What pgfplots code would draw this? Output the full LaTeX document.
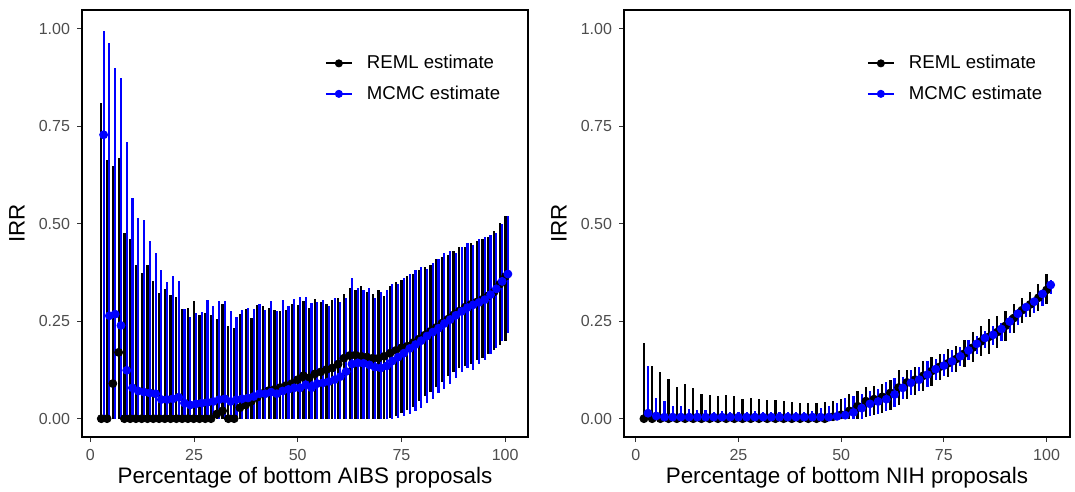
\documentclass[border=0pt]{standalone}
\usepackage{fontspec}
\setmainfont{Liberation Sans}
\usepackage{pgfplots}
\usepackage{pgfplotstable}
\pgfplotsset{compat=1.18}
\definecolor{tickgray}{HTML}{4D4D4D}
\definecolor{tickline}{HTML}{333333}
\definecolor{mcmcblue}{RGB}{0,0,255}

% AIBS: REML
\pgfplotstableread{
x y lo hi
2.65 0 0 0.81
4.04 0 0 0.664
5.43 0.09 0 0.649
6.83 0.17 0 0.668
8.22 0 0 0.476
9.61 0 0 0.462
11.00 0 0 0.395
12.39 0 0 0.374
13.79 0 0 0.395
15.18 0 0 0.354
16.57 0 0 0.323
17.96 0 0 0.333
19.35 0 0 0.316
20.75 0 0 0.311
22.14 0 0 0.282
23.53 0 0 0.284
24.92 0 0 0.302
26.31 0 0 0.265
27.71 0 0 0.271
29.10 0 0 0.267
30.49 0.012 0 0.256
31.88 0.02 0 0.293
33.27 0 0 0.237
34.67 0 0 0.232
36.06 0.028 0 0.268
37.45 0.035 0 0.282
38.84 0.045 0 0.258
40.23 0.055 0 0.292
41.63 0.065 0 0.290
43.02 0.072 0 0.284
44.41 0.075 0 0.279
45.80 0.08 0 0.277
47.19 0.085 0 0.279
48.59 0.09 0 0.295
49.98 0.10 0 0.292
51.37 0.11 0 0.301
52.76 0.105 0 0.284
54.15 0.115 0 0.308
55.55 0.12 0 0.30
56.94 0.126 0 0.295
58.33 0.13 0 0.305
59.72 0.14 0 0.31
61.11 0.155 0 0.32
62.51 0.162 0 0.335
63.90 0.163 0 0.33
65.29 0.16 0 0.34
66.68 0.158 0 0.325
68.07 0.155 0 0.32
69.47 0.155 0 0.33
70.86 0.16 0 0.315
72.25 0.168 0.003 0.34
73.64 0.175 0.008 0.35
75.03 0.182 0.015 0.355
76.43 0.186 0.022 0.365
77.82 0.195 0.03 0.37
79.21 0.204 0.045 0.38
80.60 0.214 0.058 0.39
81.99 0.224 0.068 0.395
83.39 0.234 0.08 0.41
84.78 0.245 0.095 0.415
86.17 0.255 0.11 0.42
87.56 0.266 0.12 0.43
88.95 0.276 0.13 0.44
90.35 0.286 0.135 0.44
91.74 0.293 0.14 0.45
93.13 0.299 0.15 0.455
94.52 0.306 0.155 0.46
95.91 0.315 0.165 0.465
97.31 0.325 0.175 0.48
98.70 0.345 0.19 0.503
100.09 0.365 0.20 0.519
}\aibsreml

% AIBS: MCMC
\pgfplotstableread{
x y lo hi
3.21 0.728 0 0.995
4.60 0.264 0 0.963
5.99 0.268 0 0.899
7.39 0.239 0 0.874
8.78 0.124 0 0.709
10.17 0.079 0 0.566
11.56 0.071 0 0.515
12.95 0.068 0 0.510
14.35 0.066 0 0.456
15.74 0.064 0 0.425
17.13 0.049 0 0.382
18.52 0.049 0 0.350
19.91 0.051 0 0.367
21.31 0.055 0 0.354
22.70 0.040 0 0.282
24.09 0.035 0 0.262
25.48 0.038 0 0.270
26.87 0.040 0 0.274
28.27 0.042 0 0.305
29.66 0.044 0 0.290
31.05 0.049 0 0.301
32.44 0.051 0 0.303
33.83 0.044 0 0.275
35.23 0.049 0 0.260
36.62 0.051 0 0.279
38.01 0.053 0 0.284
39.40 0.057 0 0.281
40.79 0.064 0 0.294
42.19 0.064 0 0.278
43.58 0.068 0 0.303
44.97 0.064 0 0.275
46.36 0.071 0 0.305
47.75 0.075 0 0.288
49.15 0.079 0 0.308
50.54 0.079 0 0.311
51.93 0.087 0 0.311
53.32 0.079 0 0.297
54.71 0.090 0 0.300
56.11 0.092 0 0.305
57.50 0.095 0 0.290
58.89 0.100 0 0.310
60.28 0.108 0 0.300
61.67 0.121 0 0.310
63.07 0.140 0 0.360
64.46 0.143 0 0.335
65.85 0.142 0 0.330
67.24 0.138 0 0.335
68.63 0.132 0 0.310
70.03 0.130 0 0.325
71.42 0.135 0 0.330
72.81 0.148 0 0.345
74.20 0.158 0.003 0.345
75.59 0.168 0.008 0.360
76.99 0.180 0.012 0.370
78.38 0.190 0.020 0.380
79.77 0.200 0.028 0.390
81.16 0.212 0.040 0.385
82.55 0.222 0.050 0.400
83.95 0.232 0.065 0.410
85.34 0.244 0.075 0.425
86.73 0.254 0.090 0.430
88.12 0.265 0.105 0.425
89.51 0.275 0.120 0.440
90.91 0.285 0.130 0.450
92.30 0.292 0.125 0.445
93.69 0.298 0.140 0.460
95.08 0.305 0.150 0.465
96.47 0.318 0.165 0.470
97.87 0.333 0.180 0.475
99.26 0.352 0.200 0.500
100.65 0.371 0.220 0.519
}\aibsmcmc

% NIH: REML
\pgfplotstableread{
x y lo hi
2 0 0 0.194
4 0 0 0.136
6 0 0 0.119
8 0 0 0.103
10 0 0 0.081
12 0 0 0.089
14 0 0 0.078
16 0 0 0.063
18 0 0 0.061
20 0 0 0.057
22 0 0 0.061
24 0 0 0.058
26 0 0 0.051
28 0 0 0.052
30 0 0 0.050
32 0 0 0.049
34 0 0 0.049
36 0 0 0.046
38 0 0 0.042
40 0 0 0.039
42 0 0 0.039
44 0 0 0.040
46 0 0 0.042
48 0.005 0 0.045
50 0.010 0 0.050
52 0.020 0 0.062
54 0.032 0 0.070
56 0.045 0.005 0.081
58 0.050 0.010 0.084
60 0.056 0.015 0.090
62 0.066 0.022 0.099
64 0.080 0.035 0.126
66 0.093 0.050 0.124
68 0.100 0.060 0.133
70 0.110 0.072 0.147
72 0.122 0.085 0.158
74 0.133 0.100 0.166
76 0.142 0.108 0.179
78 0.153 0.120 0.187
80 0.167 0.132 0.202
82 0.182 0.145 0.221
84 0.198 0.160 0.238
86 0.210 0.167 0.255
88 0.222 0.180 0.264
90 0.238 0.200 0.276
92 0.258 0.220 0.295
94 0.278 0.245 0.310
96 0.293 0.260 0.325
98 0.310 0.275 0.345
100 0.330 0.295 0.370
}\nihreml

% NIH: MCMC
\pgfplotstableread{
x y lo hi
3 0.014 0 0.134
5 0.007 0 0.053
7 0.004 0 0.045
9 0.004 0 0.033
11 0.004 0 0.032
13 0.004 0 0.026
15 0.004 0 0.023
17 0.004 0 0.021
19 0.004 0 0.018
21 0.004 0 0.019
23 0.004 0 0.017
25 0.004 0 0.018
27 0.004 0 0.016
29 0.004 0 0.019
31 0.004 0 0.017
33 0.004 0 0.016
35 0.004 0 0.018
37 0.004 0 0.017
39 0.004 0 0.018
41 0.004 0 0.016
43 0.004 0 0.020
45 0.004 0 0.028
47 0.004 0 0.033
49 0.006 0 0.040
51 0.009 0 0.053
53 0.016 0 0.057
55 0.027 0 0.063
57 0.038 0.008 0.070
59 0.044 0.013 0.077
61 0.050 0.020 0.094
63 0.062 0.030 0.105
65 0.079 0.050 0.108
67 0.092 0.060 0.124
69 0.100 0.070 0.132
71 0.113 0.080 0.147
73 0.127 0.100 0.153
75 0.136 0.110 0.166
77 0.147 0.120 0.176
79 0.160 0.135 0.183
81 0.175 0.150 0.202
83 0.192 0.165 0.212
85 0.207 0.180 0.226
87 0.215 0.190 0.237
89 0.230 0.200 0.246
91 0.249 0.220 0.263
93 0.269 0.240 0.280
95 0.286 0.260 0.293
97 0.300 0.270 0.310
99 0.320 0.290 0.330
101 0.343 0.320 0.355
}\nihmcmc

\pgfplotsset{
  irrpanel/.style={
    scale only axis, width=223pt, height=213.5pt,
    anchor=south west,
    ymin=-0.047, ymax=1.048,
    xtick={0,25,50,75,100}, ytick={0,0.25,0.5,0.75,1},
    y tick label style={/pgf/number format/.cd, fixed, fixed zerofill, precision=2, /tikz/.cd},
    /pgf/number format/assume math mode=true,
    tick align=outside, tick pos=left, major tick length=2.5pt,
    tick style={tickline, line width=0.5pt},
    ticklabel style={font=\fontsize{8}{9.6}\selectfont, text=tickgray},
    axis line style={black, line width=0.7pt},
    label style={font=\fontsize{11.2}{13}\selectfont},
    ylabel={IRR},
    ylabel style={at={([xshift=-28.7pt]axis description cs:0,0.5)}, anchor=base, rotate=0},
    xlabel style={at={([yshift=-23pt]axis description cs:0.5,0)}, anchor=base},
    legend style={draw=none, fill=none, at={(axis description cs:0.53,0.914)}, anchor=north west,
      font=\fontsize{9.3}{11}\selectfont, row sep=3pt,
      /tikz/every odd column/.append style={column sep=5pt}},
    legend cell align=left,
    legend image code/.code={%
      \draw[line width=1pt, solid] (0cm,0cm) -- (0.46cm,0cm);
      \draw[solid] plot[mark=*, mark size=1.8pt] coordinates {(0.23cm,0cm)};},
  },
  bars/.style={forget plot, draw=none, mark=none,
    error bars/.cd, y dir=both, y explicit, error mark=none,
    error bar style={draw=#1, solid, line width=1.1pt}},
  est/.style={#1, only marks, mark=*, mark size=2pt, mark options={fill=#1, draw=#1, solid}},
}

\begin{document}
\begin{tikzpicture}
\useasboundingbox (0,0) rectangle (537.5pt,246pt);

\begin{axis}[irrpanel, at={(41pt,27.5pt)}, xmin=-2, xmax=105.5,
  xlabel={Percentage of bottom AIBS proposals}]
\addplot[bars=black] table[x=x, y=y, y error plus expr=\thisrow{hi}-\thisrow{y}, y error minus expr=\thisrow{y}-\thisrow{lo}] {\aibsreml};
\addplot[bars=mcmcblue] table[x=x, y=y, y error plus expr=\thisrow{hi}-\thisrow{y}, y error minus expr=\thisrow{y}-\thisrow{lo}] {\aibsmcmc};
\addplot[est=black] table[x=x, y=y] {\aibsreml};
\addlegendentry{REML estimate}
\addplot[est=mcmcblue] table[x=x, y=y] {\aibsmcmc};
\addlegendentry{MCMC estimate}
\end{axis}

\begin{axis}[irrpanel, at={(312pt,27.5pt)}, xmin=-2.85, xmax=105.7,
  xlabel={Percentage of bottom NIH proposals}]
\addplot[bars=black] table[x=x, y=y, y error plus expr=\thisrow{hi}-\thisrow{y}, y error minus expr=\thisrow{y}-\thisrow{lo}] {\nihreml};
\addplot[bars=mcmcblue] table[x=x, y=y, y error plus expr=\thisrow{hi}-\thisrow{y}, y error minus expr=\thisrow{y}-\thisrow{lo}] {\nihmcmc};
\addplot[est=black] table[x=x, y=y] {\nihreml};
\addlegendentry{REML estimate}
\addplot[est=mcmcblue] table[x=x, y=y] {\nihmcmc};
\addlegendentry{MCMC estimate}
\end{axis}
\end{tikzpicture}
\end{document}
